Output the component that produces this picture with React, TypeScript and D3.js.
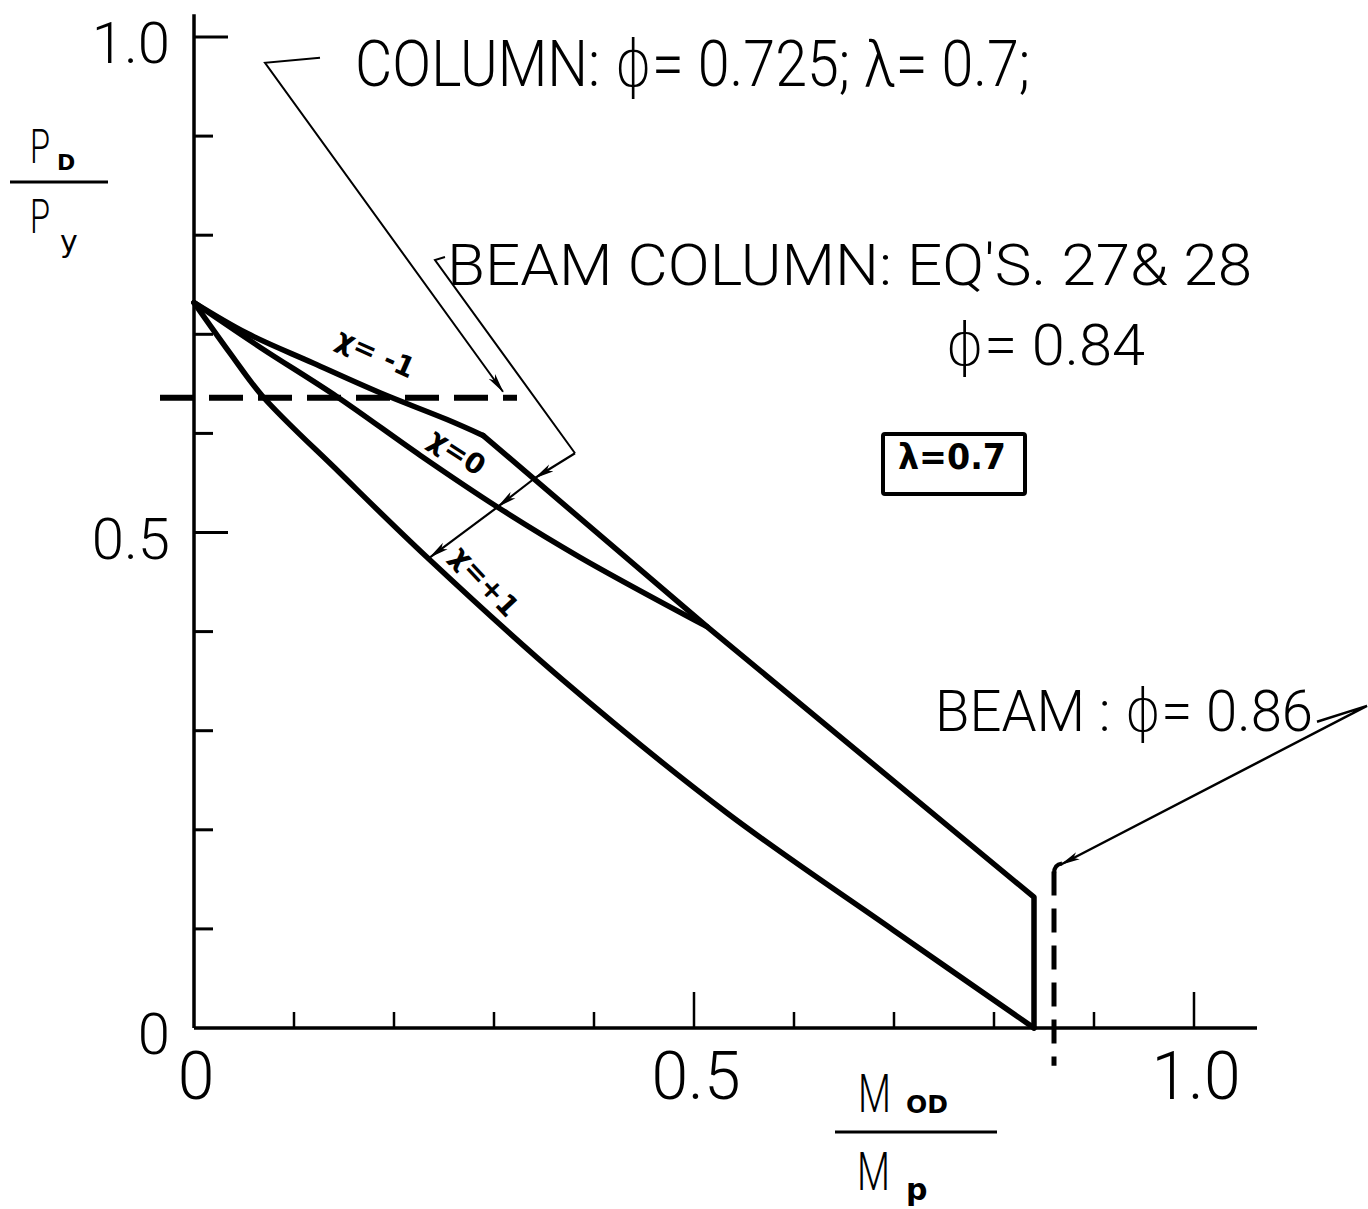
import React from "react";
import * as d3 from "d3";

// Interaction curves P_D/P_y vs M_OD/M_p for lambda = 0.7
const chiMinus1Head: [number, number][] = [
  [0, 0.732], [0.053, 0.701], [0.119, 0.671], [0.186, 0.641], [0.253, 0.614], [0.289, 0.598],
];
const chiMinus1Tail: [number, number][] = [
  [0.289, 0.598], [0.513, 0.405], [0.84, 0.132], [0.84, 0],
];
const chiZero: [number, number][] = [
  [0, 0.732], [0.066, 0.687], [0.143, 0.637], [0.226, 0.578], [0.303, 0.526], [0.386, 0.475], [0.513, 0.405],
];
const chiPlus1: [number, number][] = [
  [0, 0.732], [0.036, 0.681], [0.069, 0.637], [0.146, 0.56], [0.233, 0.475], [0.369, 0.351],
  [0.533, 0.217], [0.699, 0.099], [0.84, 0],
];

// Column strength (horizontal dashed) and beam strength (vertical dashed)
const columnCapacity = 0.636;
const columnLineSpan = [-0.034, 0.323];
const beamCapacity = 0.86;
const beamLineSpan = [-0.038, 0.158];

const xTicks = [0, 0.1, 0.2, 0.3, 0.4, 0.5, 0.6, 0.7, 0.8, 0.9, 1.0];
const yTicks = [0, 0.1, 0.2, 0.3, 0.4, 0.5, 0.6, 0.7, 0.8, 0.9, 1.0];
const majorTicks = [0.5, 1.0];
const xTickLabels = [
  { v: 0, t: "0" },
  { v: 0.5, t: "0.5" },
  { v: 1.0, t: "1.0" },
];
const yTickLabels = [
  { v: 0, t: "0" },
  { v: 0.5, t: "0.5" },
  { v: 1.0, t: "1.0" },
];

// Leader lines (data coordinates)
const columnLeader: [number, number][] = [[0.126, 0.979], [0.071, 0.974], [0.309, 0.642]];
const beamColumnLeader: [number, number][] = [[0.251, 0.778], [0.241, 0.775], [0.381, 0.58]];
const beamColumnArrows: [number, number][] = [[0.381, 0.58], [0.341, 0.555], [0.304, 0.526], [0.236, 0.475]];
const beamLeader: [number, number][] = [[1.123, 0.309], [1.173, 0.325], [0.867, 0.165]];

const W = 1368;
const H = 1209;
const FONT = "Roboto, 'DejaVu Sans', sans-serif";
const HAND = "'DejaVu Sans', sans-serif";

export default function App() {
  const x = d3.scaleLinear().domain([0, 1]).range([194, 1194]);
  const y = d3.scaleLinear().domain([0, 1]).range([1028, 37]);

  const smooth = d3
    .line<[number, number]>()
    .x((d) => x(d[0]))
    .y((d) => y(d[1]))
    .curve(d3.curveCatmullRom.alpha(0.5));
  const straight = d3
    .line<[number, number]>()
    .x((d) => x(d[0]))
    .y((d) => y(d[1]));

  const curveStyle = { fill: "none", stroke: "#000", strokeWidth: 5.5, strokeLinejoin: "round" as const, strokeLinecap: "round" as const };
  const thin = { fill: "none", stroke: "#000", strokeWidth: 2 };

  const arrowSegs = d3.pairs(beamColumnArrows);

  return (
    <svg
      width={W}
      height={H}
      viewBox={`0 0 ${W} ${H}`}
      style={{ position: "absolute", left: 0, top: 0, background: "#fff", display: "block" }}
      fontFamily={FONT}
    >
      <defs>
        <marker id="ah" viewBox="0 0 20 10" refX="19" refY="5" markerWidth="20" markerHeight="10" markerUnits="userSpaceOnUse" orient="auto">
          <path d="M0,1 L20,5 L0,9 L5,5 z" fill="#000" />
        </marker>
      </defs>
      <rect width={W} height={H} fill="#fff" />

      {/* axes */}
      <line x1={x(0)} y1={y(1.023)} x2={x(0)} y2={y(0)} stroke="#000" strokeWidth={3.5} />
      <line x1={x(0)} y1={y(0)} x2={x(1.063)} y2={y(0)} stroke="#000" strokeWidth={3.5} />
      {xTicks.slice(1).map((t) => (
        <line key={"xt" + t} x1={x(t)} x2={x(t)} y1={y(0)} y2={y(0) - (majorTicks.includes(t) ? 36 : 16)} stroke="#000" strokeWidth={2.5} />
      ))}
      {yTicks.slice(1).map((t) => (
        <line key={"yt" + t} x1={x(0)} x2={x(0) + (majorTicks.includes(t) ? 34 : 19)} y1={y(t)} y2={y(t)} stroke="#000" strokeWidth={3} />
      ))}
      {xTickLabels.map((d) => (
        <text key={"xl" + d.v} x={x(d.v) + 2} y={1099} fontSize={66} fontWeight={300} textAnchor="middle">
          {d.t}
        </text>
      ))}
      {yTickLabels.map((d) => (
        <text key={"yl" + d.v} x={x(0) - 24} y={y(d.v) + 26} fontSize={58} fontWeight={300} textAnchor="end">
          {d.t}
        </text>
      ))}

      {/* axis titles */}
      <text x={30} y={163} fontSize={48} fontWeight={300} textLength={20} lengthAdjust="spacingAndGlyphs">P</text>
      <text x={57} y={170} fontSize={22} fontWeight={700} fontFamily={HAND}>D</text>
      <line x1={10} x2={108} y1={182} y2={182} stroke="#000" strokeWidth={3} />
      <text x={30} y={233} fontSize={48} fontWeight={300} textLength={20} lengthAdjust="spacingAndGlyphs">P</text>
      <text x={60} y={252} fontSize={30} fontWeight={400} fontFamily={HAND}>y</text>

      <text x={858} y={1112} fontSize={54} fontWeight={300} textLength={33} lengthAdjust="spacingAndGlyphs">M</text>
      <text x={906} y={1113} fontSize={24} fontWeight={700} fontFamily={HAND} textLength={42} lengthAdjust="spacingAndGlyphs">OD</text>
      <line x1={835} x2={997} y1={1132} y2={1132} stroke="#000" strokeWidth={3} />
      <text x={857} y={1190} fontSize={54} fontWeight={300} textLength={33} lengthAdjust="spacingAndGlyphs">M</text>
      <text x={906} y={1200} fontSize={30} fontWeight={700} fontFamily={HAND}>p</text>

      {/* column strength and beam strength */}
      <line
        x1={x(columnLineSpan[0])}
        x2={x(columnLineSpan[1])}
        y1={y(columnCapacity)}
        y2={y(columnCapacity)}
        stroke="#000"
        strokeWidth={6}
        strokeDasharray="34 15"
      />
      <line
        x1={x(beamCapacity)}
        x2={x(beamCapacity)}
        y1={y(beamLineSpan[1])}
        y2={y(beamLineSpan[0])}
        stroke="#000"
        strokeWidth={5}
        strokeDasharray="24 13"
      />
      <path d={`M${x(beamCapacity)},${y(beamLineSpan[1]) + 2} Q${x(beamCapacity)},${y(beamLineSpan[1]) - 7} ${x(beamCapacity) + 8},${y(beamLineSpan[1]) - 8}`} {...thin} strokeWidth={4} />

      {/* beam-column interaction curves */}
      <path d={smooth(chiMinus1Head) || ""} {...curveStyle} />
      <path d={straight(chiMinus1Tail) || ""} {...curveStyle} />
      <path d={smooth(chiZero) || ""} {...curveStyle} />
      <path d={smooth(chiPlus1) || ""} {...curveStyle} />

      {/* leaders */}
      <path d={straight(columnLeader) || ""} {...thin} markerEnd="url(#ah)" />
      <path d={straight(beamColumnLeader) || ""} {...thin} />
      {arrowSegs.map(([a, b], i) => (
        <line key={"bca" + i} x1={x(a[0])} y1={y(a[1])} x2={x(b[0])} y2={y(b[1])} stroke="#000" strokeWidth={2.2} markerEnd="url(#ah)" />
      ))}
      <path d={straight(beamLeader) || ""} {...thin} strokeWidth={2.5} markerEnd="url(#ah)" />

      {/* curve labels */}
      <text x={372} y={362} fontSize={28} fontWeight={700} fontFamily={HAND} textAnchor="middle" transform="rotate(24 372 362)">χ= -1</text>
      <text x={452} y={460} fontSize={28} fontWeight={700} fontFamily={HAND} textAnchor="middle" transform="rotate(33 452 460)">χ=0</text>
      <text x={478} y={588} fontSize={28} fontWeight={700} fontFamily={HAND} textAnchor="middle" transform="rotate(47 478 588)">χ=+1</text>

      {/* annotations */}
      <text x={355} y={86} fontSize={64} fontWeight={300} textLength={675} lengthAdjust="spacingAndGlyphs">
        COLUMN:  ϕ= 0.725;  λ= 0.7;
      </text>
      <text x={447} y={285} fontSize={58} fontWeight={300} textLength={805} lengthAdjust="spacingAndGlyphs">
        BEAM COLUMN:   EQ'S. 27&amp; 28
      </text>
      <text x={945} y={365} fontSize={58} fontWeight={300} textLength={200} lengthAdjust="spacingAndGlyphs">
        ϕ= 0.84
      </text>
      <text x={935} y={731} fontSize={58} fontWeight={300} textLength={378} lengthAdjust="spacingAndGlyphs">
        BEAM : ϕ= 0.86
      </text>

      <rect x={883} y={434} width={142} height={60} fill="none" stroke="#000" strokeWidth={4} rx={2} />
      <text x={898} y={469} fontSize={36} fontWeight={700} fontFamily={HAND} textLength={108} lengthAdjust="spacingAndGlyphs">
        λ=0.7
      </text>
    </svg>
  );
}
